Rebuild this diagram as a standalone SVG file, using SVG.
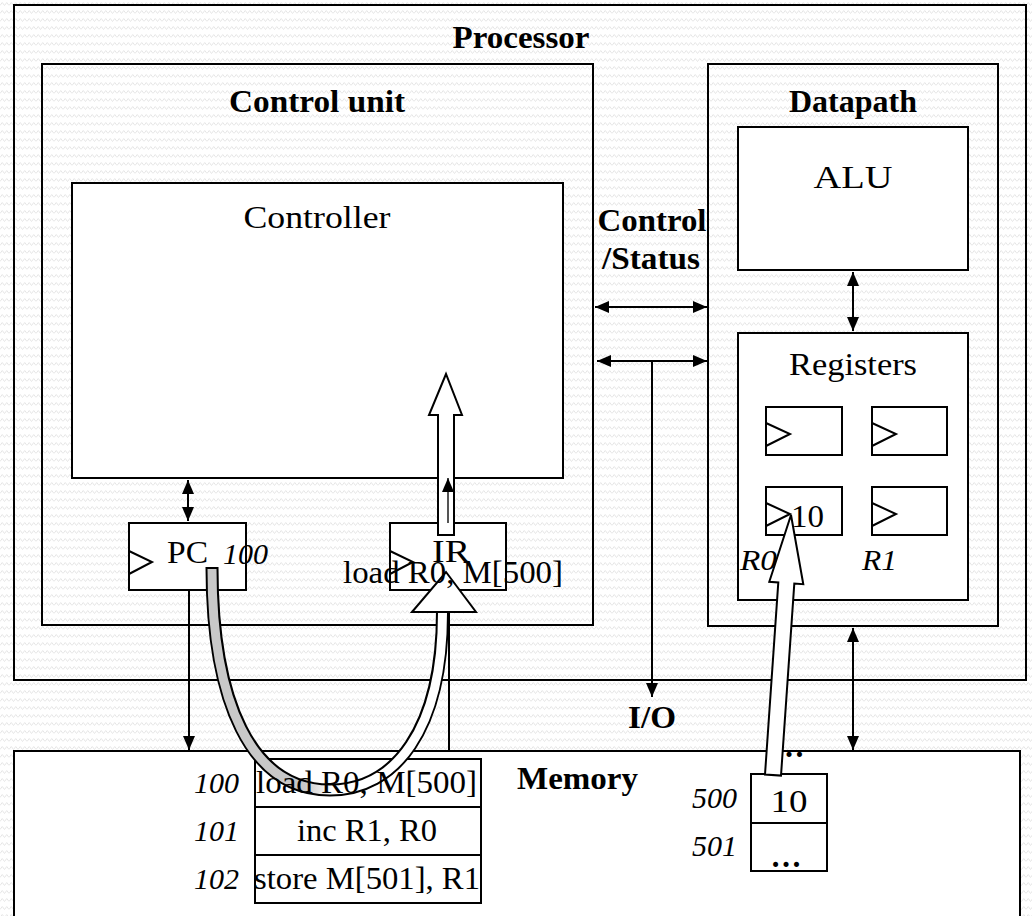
<svg xmlns="http://www.w3.org/2000/svg" width="1032" height="916" viewBox="0 0 1032 916">
<style>
.box{fill:#fff;stroke:#000;stroke-width:2}
.frame{fill:none;stroke:#000;stroke-width:2}
.ln{fill:none;stroke:#000;stroke-width:2}
.t{font-family:"Liberation Serif","Times New Roman",serif;font-size:32px;fill:#000}
.b{font-family:"Liberation Serif","Times New Roman",serif;font-size:31px;font-weight:bold;fill:#000}
.i{font-family:"Liberation Serif","Times New Roman",serif;font-size:30px;font-style:italic;fill:#000}
.c{text-anchor:middle}
.e{text-anchor:end}
</style>
<defs>
<pattern id="bg" width="9" height="8" patternUnits="userSpaceOnUse">
<path d="M0 5.5 L2.25 2.5 L4.5 5.5 L6.75 2.5 L9 5.5" fill="none" stroke="#e6e6e6" stroke-width="1"/>
</pattern>
<marker id="ah" viewBox="0 0 10 10" refX="10" refY="5" markerUnits="userSpaceOnUse" markerWidth="14" markerHeight="12" orient="auto-start-reverse" preserveAspectRatio="none">
<path d="M0 0 L10 5 L0 10 z" fill="#000"/>
</marker>
<linearGradient id="band" x1="0" y1="0" x2="1" y2="0">
<stop offset="0" stop-color="#c8c8c8"/>
<stop offset="0.4" stop-color="#c8c8c8"/>
<stop offset="0.52" stop-color="#fff"/>
<stop offset="1" stop-color="#fff"/>
</linearGradient>
</defs>
<rect x="0" y="0" width="1032" height="916" fill="#fff"/>
<rect x="0" y="0" width="1032" height="916" fill="url(#bg)"/>

<g id="processor">
<rect class="frame" x="14" y="5" width="1012" height="675"/>
<text class="b c" x="521" y="48" textLength="137" lengthAdjust="spacingAndGlyphs">Processor</text>
</g>

<g id="control-unit">
<rect class="frame" x="42" y="64" width="551" height="561"/>
<text class="b c" x="317" y="112" textLength="176" lengthAdjust="spacingAndGlyphs">Control unit</text>
</g>

<g id="controller">
<rect class="box" x="72" y="183" width="491" height="295"/>
<text class="t c" x="317" y="228" textLength="147" lengthAdjust="spacingAndGlyphs">Controller</text>
</g>

<g id="datapath">
<rect class="frame" x="708" y="64" width="290" height="562"/>
<text class="b c" x="853" y="112" textLength="128" lengthAdjust="spacingAndGlyphs">Datapath</text>
</g>

<g id="alu">
<rect class="box" x="738" y="127" width="230" height="143"/>
<text class="t c" x="853" y="188" textLength="79" lengthAdjust="spacingAndGlyphs">ALU</text>
</g>

<g id="registers">
<rect class="box" x="738" y="333" width="230" height="267"/>
<text class="t c" x="853" y="375" textLength="128" lengthAdjust="spacingAndGlyphs">Registers</text>
<rect class="box" x="766" y="407" width="76" height="48"/>
<path class="ln" d="M766 423 L790 434 L766 446"/>
<rect class="box" x="872" y="407" width="75" height="48"/>
<path class="ln" d="M872 423 L896 434 L872 446"/>
<rect class="box" x="766" y="487" width="76" height="48"/>
<path class="ln" d="M766 503 L790 514 L766 526"/>
<text class="t" x="791" y="527" textLength="33" lengthAdjust="spacingAndGlyphs">10</text>
<rect class="box" x="872" y="487" width="75" height="48"/>
<path class="ln" d="M872 503 L896 514 L872 526"/>
<text class="i" x="740" y="570" textLength="37" lengthAdjust="spacingAndGlyphs">R0</text>
<text class="i" x="862" y="570" textLength="35" lengthAdjust="spacingAndGlyphs">R1</text>
</g>

<g id="control-status-label">
<text class="b c" x="652" y="231" textLength="109" lengthAdjust="spacingAndGlyphs">Control</text>
<text class="b c" x="651" y="269" textLength="98" lengthAdjust="spacingAndGlyphs">/Status</text>
</g>

<g id="io-label">
<text class="b c" x="652" y="728" textLength="48" lengthAdjust="spacingAndGlyphs">I/O</text>
</g>

<g id="pc">
<rect class="box" x="129" y="523" width="117" height="67"/>
<path class="ln" d="M129 551 L152 562 L129 574"/>
<text class="t" x="167" y="563" textLength="41" lengthAdjust="spacingAndGlyphs">PC</text>
<text class="i" x="223" y="564" textLength="45" lengthAdjust="spacingAndGlyphs">100</text>
</g>

<g id="memory">
<rect class="box" x="14" y="751" width="1006" height="180"/>
<text class="b" x="517" y="789" textLength="121" lengthAdjust="spacingAndGlyphs">Memory</text>
<rect class="box" x="255" y="759" width="226" height="48"/>
<rect class="box" x="255" y="807" width="226" height="48"/>
<rect class="box" x="255" y="855" width="226" height="48"/>
<text class="i e" x="239" y="793">100</text>
<text class="i e" x="239" y="841">101</text>
<text class="i e" x="239" y="889">102</text>
<text class="t c" x="367" y="841" textLength="140" lengthAdjust="spacingAndGlyphs">inc R1, R0</text>
<text class="t" x="254" y="889" textLength="226" lengthAdjust="spacingAndGlyphs">store M[501], R1</text>
<text class="b c" x="789" y="757" font-size="34">…</text>
<rect class="box" x="751" y="774" width="76" height="49"/>
<rect class="box" x="751" y="823" width="76" height="48"/>
<text class="t c" x="789" y="812" textLength="37" lengthAdjust="spacingAndGlyphs">10</text>
<text class="b c" x="786" y="867" font-size="34">…</text>
<text class="i e" x="737" y="808">500</text>
<text class="i e" x="737" y="856">501</text>
</g>

<g id="ir">
<rect class="box" x="390" y="523" width="116" height="67"/>
<path class="ln" d="M390 551 L413 562 L390 574"/>
<text class="t" x="432" y="562" textLength="38" lengthAdjust="spacingAndGlyphs">IR</text>
</g>

<g id="connectors">
<line class="ln" x1="188" y1="480" x2="188" y2="521" marker-start="url(#ah)" marker-end="url(#ah)"/>
<line class="ln" x1="189" y1="590" x2="189" y2="750" marker-end="url(#ah)"/>
<line class="ln" x1="449" y1="590" x2="449" y2="751"/>
<line class="ln" x1="595" y1="307" x2="707" y2="307" marker-start="url(#ah)" marker-end="url(#ah)"/>
<line class="ln" x1="597" y1="361" x2="707" y2="361" marker-start="url(#ah)" marker-end="url(#ah)"/>
<line class="ln" x1="652" y1="361" x2="652" y2="697" marker-end="url(#ah)"/>
<line class="ln" x1="853" y1="272" x2="853" y2="331" marker-start="url(#ah)" marker-end="url(#ah)"/>
<line class="ln" x1="853" y1="628" x2="853" y2="750" marker-start="url(#ah)" marker-end="url(#ah)"/>
<polygon points="438,535 438,415 429,415 446,374 462,415 454,415 454,535" fill="#fff" stroke="#000" stroke-width="2" stroke-linejoin="miter"/>
<line x1="448" y1="523" x2="448" y2="478" stroke="#555" stroke-width="2" marker-end="url(#ah)"/>
<polygon points="412,612 446,572 476,612" fill="#fff" stroke="#000" stroke-width="2"/>
<path d="M212 567 C212 700 250 790 330 790 C395 790 442.5 730 442.5 611" fill="none" stroke="#000" stroke-width="13"/>
<path d="M212 569 C212 700 250 790 330 790 C395 790 442.5 730 442.5 613" fill="none" stroke="url(#band)" stroke-width="9"/>
<polygon points="765,774.5 778.3,582.4 769.3,581.8 791,515 803.3,584.2 794.3,583.6 781,775.6" fill="#fff" stroke="#000" stroke-width="2"/>
</g>

<g id="overlay-texts">
<text class="t" x="343" y="583" textLength="220" lengthAdjust="spacingAndGlyphs">load R0, M[500]</text>
<text class="t" x="256" y="793" textLength="221" lengthAdjust="spacingAndGlyphs">load R0, M[500]</text>
</g>
</svg>
